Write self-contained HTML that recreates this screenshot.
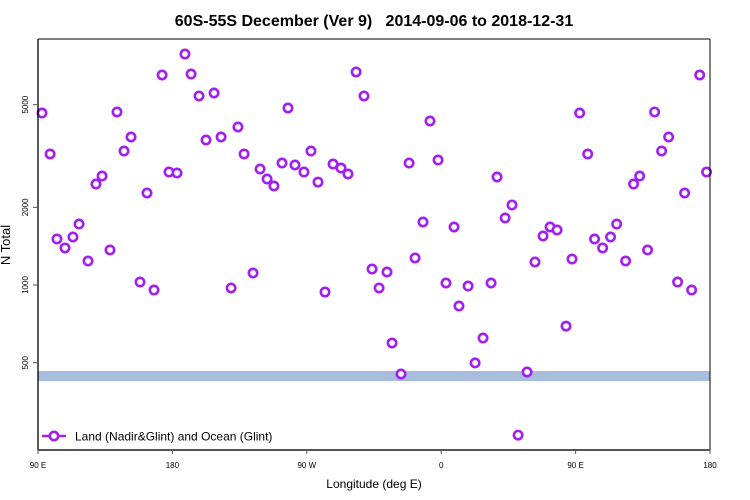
<!DOCTYPE html>
<html><head><meta charset="utf-8"><style>
html,body{margin:0;padding:0;background:#fff;}
svg{display:block;font-family:"Liberation Sans",sans-serif;}
</style></head><body>
<svg id="chart" width="750" height="500" viewBox="0 0 750 500" xmlns="http://www.w3.org/2000/svg">
<rect width="750" height="500" fill="#fff"/>
<text x="374" y="26" text-anchor="middle" font-size="16" font-weight="bold" style="white-space:pre" xml:space="preserve">60S-55S December (Ver 9)   2014-09-06 to 2018-12-31</text>
<text transform="translate(10,245) rotate(-90)" text-anchor="middle" font-size="13">N Total</text>
<text x="374" y="488" text-anchor="middle" font-size="12">Longitude (deg E)</text>
<g id="band"></g>
<g id="points"></g>
<g id="axes"></g>
<g>
<line x1="42" y1="436" x2="66" y2="436" stroke="#a020f0" stroke-width="2.5"/>
<circle cx="54" cy="436" r="4.2" fill="#fff" stroke="#a020f0" stroke-width="2.6"/>
<text x="75" y="440.5" font-size="12">Land (Nadir&amp;Glint) and Ocean (Glint)</text>
</g>
</svg>
<script>
const lonE = [92.7,98.1,102.7,108.1,113.4,117.5,123.5,128.8,132.9,138.2,142.9,147.6,152.3,158.3,163.0,167.7,173.1,177.7,183.1,188.4,192.5,197.8,202.5,207.9,212.6,219.3,223.9,228.0,234.0,238.7,243.4,248.0,253.4,257.4,262.1,268.1,272.8,277.5,282.2,287.6,292.9,297.6,303.0,308.3,313.7,318.4,323.7,327.1,333.1,338.5,342.5,347.8,352.5,357.9,3.2,8.6,11.9,18.0,22.7,28.0,33.4,37.4,42.8,47.4,51.5,57.5,62.8,68.2,72.9,77.6,83.6,87.6];
const nTotal = [4640,3220,1508,1392,1535,1723,1239,2462,2645,1367,4685,3306,3747,1027,2273,956,6516,2741,2718,7856,6573,5404,3648,5550,3747,974,4097,3220,1113,2816,2575,2420,2970,4853,2919,2741,3306,2506,939,2944,2840,2693,6695,5404,1153,974,1123,596,452,2970,1273,1755,4322,3051,1018,1678,829,991,499,623,1018,2622,1819,2043,262,460,1228,1549,1678,1634,693,1261];
const bandRange = [424, 464];
const xTickLon = [90,180,270,360,450,540];
const xTickLabels = ["90 E","180","90 W","0","90 E","180"];
const yTicks = [500,1000,2000,5000];

const X0=38, X1=710, Y0=39, Y1=450;
function xScale(u){ return X0 + (u-90)/(540-90)*(X1-X0); }
function yScale(v){ return 285 - 258*(Math.log10(v)-3); }
const NS="http://www.w3.org/2000/svg";
function mk(tag, attrs, parent){ const e=document.createElementNS(NS,tag); for(const k in attrs) e.setAttribute(k,attrs[k]); parent.appendChild(e); return e; }

const band=document.getElementById('band');
const br=mk('rect',{x:X0,y:yScale(bandRange[1]),width:X1-X0,height:yScale(bandRange[0])-yScale(bandRange[1]),fill:'#a8bcdb'},band);



const pts=document.getElementById('points');
lonE.forEach((L,i)=>{
  let u = L<90 ? L+360 : L;
  const reps=[u]; if(u+360<=540) reps.push(u+360);
  reps.forEach(uu=>{
    const c=mk('circle',{cx:xScale(uu),cy:yScale(nTotal[i]),r:4.2,fill:'#fff',stroke:'#a020f0','stroke-width':2.6},pts);
    
    
  });
});

const ax=document.getElementById('axes');
const l1=mk('line',{x1:X0,y1:Y0,x2:X0,y2:Y1,stroke:'#000','stroke-width':1.3},ax);


const l2=mk('line',{x1:X1,y1:Y0,x2:X1,y2:Y1,stroke:'#000','stroke-width':1},ax);


const l3=mk('line',{x1:X0,y1:Y0,x2:X1,y2:Y0,stroke:'#000','stroke-width':1},ax);


const l4=mk('line',{x1:X0,y1:Y1,x2:X1,y2:Y1,stroke:'#555','stroke-width':2},ax);


yTicks.forEach(v=>{
  const y=yScale(v);
  const t=mk('line',{x1:X0-5,y1:y,x2:X0,y2:y,stroke:'#555','stroke-width':1},ax);
  
  
  const tx=mk('text',{transform:`translate(28,${y}) rotate(-90)`,'text-anchor':'middle','font-size':8},ax);
  tx.textContent=v;
  
  
});
xTickLon.forEach((u,i)=>{
  const x=xScale(u);
  const t=mk('line',{x1:x,y1:Y1,x2:x,y2:Y1+4,stroke:'#555','stroke-width':1},ax);
  
  
  const tx=mk('text',{x:x,y:468,'text-anchor':'middle','font-size':8},ax);
  tx.textContent=xTickLabels[i];
  
  
});
</script>
</body></html>
